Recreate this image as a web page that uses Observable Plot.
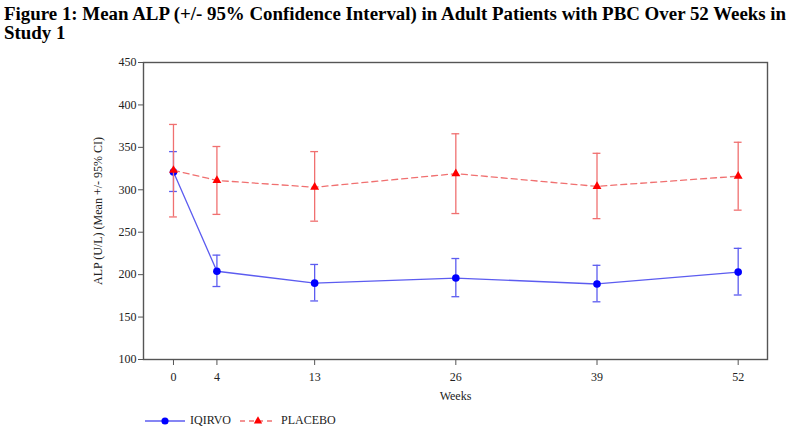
<!DOCTYPE html>
<html>
<head>
<meta charset="utf-8">
<script src="https://cdn.jsdelivr.net/npm/d3@7"></script>
<script src="https://cdn.jsdelivr.net/npm/@observablehq/plot@0.6"></script>
<style>
  html, body { margin: 0; padding: 0; background: #fff; }
  body { width: 800px; height: 435px; overflow: hidden; position: relative; font-family: "Liberation Serif", "Times New Roman", serif; }
  #title { position: absolute; left: 4px; top: 4px; width: 796px; font-weight: bold; font-size: 18.9px; line-height: 19px; color: #000; white-space: nowrap; }
  #chart { position: absolute; left: 0; top: 50px; }
  #legend { position: absolute; left: 145px; top: 413px; font-size: 12px; display: flex; align-items: center; gap: 9px; color: #222; }
  #legend .item { display: flex; align-items: center; gap: 5px; }
</style>
</head>
<body>
<div id="title">Figure 1: Mean ALP (+/- 95% Confidence Interval) in Adult Patients with PBC Over 52 Weeks in<br>Study 1</div>
<div id="chart"></div>
<div id="legend"></div>
<script>
const weeks = [0, 4, 13, 26, 39, 52];
const iqirvoMean = [321, 204, 190, 196, 189, 203];
const iqirvoLow  = [298, 186, 169, 174, 168, 176];
const iqirvoHigh = [345, 223, 212, 219, 211, 231];
const placeboMean = [323, 311, 303, 319, 304, 316];
const placeboLow  = [268, 271, 263, 272, 266, 276];
const placeboHigh = [377, 351, 345, 366, 343, 356];
const seriesNames = ["IQIRVO", "PLACEBO"];
const yTicks = [100, 150, 200, 250, 300, 350, 400, 450];
const xTicks = [0, 4, 13, 26, 39, 52];

const rows = (name, m, lo, hi) => weeks.map((w, i) => ({series: name, week: w, mean: m[i], lo: lo[i], hi: hi[i]}));
const iq = rows(seriesNames[0], iqirvoMean, iqirvoLow, iqirvoHigh);
const pl = rows(seriesNames[1], placeboMean, placeboLow, placeboHigh);

const blueLine = "#5c5cf0", blueDot = "#0000ff";
const redLine = "#f07070", redDot = "#ff0000";
const capHalf = 0.36;

const errMarks = (data, color) => [
  Plot.ruleX(data, {x: "week", y1: "lo", y2: "hi", stroke: color, strokeWidth: 1.3}),
  Plot.ruleY(data, {y: "lo", x1: d => d.week - capHalf, x2: d => d.week + capHalf, stroke: color, strokeWidth: 1.3}),
  Plot.ruleY(data, {y: "hi", x1: d => d.week - capHalf, x2: d => d.week + capHalf, stroke: color, strokeWidth: 1.3})
];

const chart = Plot.plot({
  width: 800,
  height: 358,
  marginLeft: 143,
  marginRight: 33,
  marginTop: 12,
  marginBottom: 49,
  style: {fontFamily: "'Liberation Serif', 'Times New Roman', serif", fontSize: "12px", color: "#222", background: "#fff"},
  x: {domain: [-2.76, 54.7]},
  y: {domain: [100, 450]},
  marks: [
    Plot.frame({stroke: "#555", strokeWidth: 1.4}),
    Plot.axisY({ticks: yTicks, tickSize: 5, tickPadding: 2, label: "ALP (U/L) (Mean +/- 95% CI)", labelAnchor: "center", labelArrow: "none", labelOffset: 50, stroke: "#555"}),
    Plot.axisX({ticks: xTicks, tickSize: 6, tickPadding: 7, label: "Weeks", labelAnchor: "center", labelArrow: "none", labelOffset: 40, stroke: "#555"}),
    ...errMarks(iq, blueLine),
    Plot.line(iq, {x: "week", y: "mean", stroke: blueLine, strokeWidth: 1.3}),
    Plot.dot(iq, {x: "week", y: "mean", r: 3.8, fill: blueDot, stroke: "none"}),
    ...errMarks(pl, redLine),
    Plot.line(pl, {x: "week", y: "mean", stroke: redLine, strokeWidth: 1.3, strokeDasharray: "6,4"}),
    Plot.dot(pl, {x: "week", y: "mean", r: 3.3, symbol: "triangle", fill: redDot, stroke: "none"})
  ]
});
document.getElementById("chart").appendChild(chart);

const legend = document.getElementById("legend");
const sw = [
  {name: seriesNames[0], line: blueLine, dot: blueDot, dash: null, sym: d3.symbolCircle, size: 40, w: 40},
  {name: seriesNames[1], line: redLine, dot: redDot, dash: "5,4", sym: d3.symbolTriangle, size: 30, w: 36}
];
sw.forEach(s => {
  const item = document.createElement("div");
  item.className = "item";
  const svg = d3.create("svg").attr("width", s.w).attr("height", 12);
  svg.append("line").attr("x1", 0).attr("x2", s.w).attr("y1", 6).attr("y2", 6)
    .attr("stroke", s.line).attr("stroke-width", 1.3).attr("stroke-dasharray", s.dash);
  svg.append("path").attr("transform", `translate(${s.w / 2},6)`)
    .attr("d", d3.symbol(s.sym, s.size)())
    .attr("fill", s.dot);
  item.appendChild(svg.node());
  const t = document.createElement("span");
  t.textContent = s.name;
  item.appendChild(t);
  legend.appendChild(item);
});
</script>
</body>
</html>
